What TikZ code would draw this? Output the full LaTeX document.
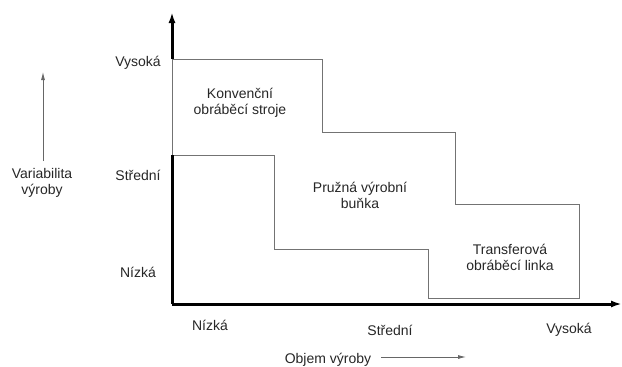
\documentclass[tikz,border=0pt]{standalone}
\usepackage{fontspec}
\setmainfont{Liberation Sans}
\usetikzlibrary{arrows.meta}
\begin{document}
\begin{tikzpicture}[x=1pt,y=-1pt,
    axis/.style={line width=3pt,-{Latex[length=11pt,width=7pt]}},
    area/.style={draw=black!55,line width=1pt},
    lbl/.style={font=\fontsize{14}{16}\selectfont,align=center,text=black!85},
    hint/.style={draw=black!60,line width=0.8pt,-{Latex[length=8pt,width=4pt]}}]
    \useasboundingbox (0,0) rectangle (622,367);

    % Corner of the axes and their ends
    \coordinate (O) at (172,304);
    \coordinate (Xend) at (622,304);
    \coordinate (Yend) at (172,12);
    \coordinate (Ytop) at (172,59);
    \coordinate (Ymid) at (172,155);

    % Outline of the three areas
    \draw[area] (Ymid) -- (Ytop) -- (322,59) -- (322,132) -- (455,132)
        -- (455,204) -- (579,204) -- (579,298) -- (428,298) -- (428,249)
        -- (274,249) -- (274,155) -- (Ymid);

    % Axes
    \draw[axis] (O) -- (Xend);
    \draw[line width=3pt] (O) -- (Ymid);
    \draw[axis] (Ytop) -- (Yend);

    % Area labels
    \node[lbl] (conv) at (240,103) {Konvenční\\obráběcí stroje};
    \node[lbl] (flex) at (360,195) {Pružná výrobní\\buňka};
    \node[lbl] (trans) at (510,257) {Transferová\\obráběcí linka};

    % Levels on the vertical axis
    \node[lbl] (yhigh) at (138,63) {Vysoká};
    \node[lbl] (ymid) at (138,175) {Střední};
    \node[lbl] (ylow) at (138,272) {Nízká};

    % Levels on the horizontal axis
    \node[lbl] (xlow) at (210,325) {Nízká};
    \node[lbl] (xmid) at (390,330) {Střední};
    \node[lbl] (xhigh) at (569,330) {Vysoká};

    % Axis titles
    \node[lbl] (vartitle) at (42,183) {Variabilita\\výroby};
    \coordinate (varbot) at (43,161);
    \coordinate (vartop) at (43,72);
    \draw[hint] (varbot) -- (vartop);

    \node[lbl] (voltitle) at (328,360) {Objem výroby};
    \coordinate (volstart) at (381,357);
    \coordinate (volend) at (466,357);
    \draw[hint] (volstart) -- (volend);
\end{tikzpicture}
\end{document}
